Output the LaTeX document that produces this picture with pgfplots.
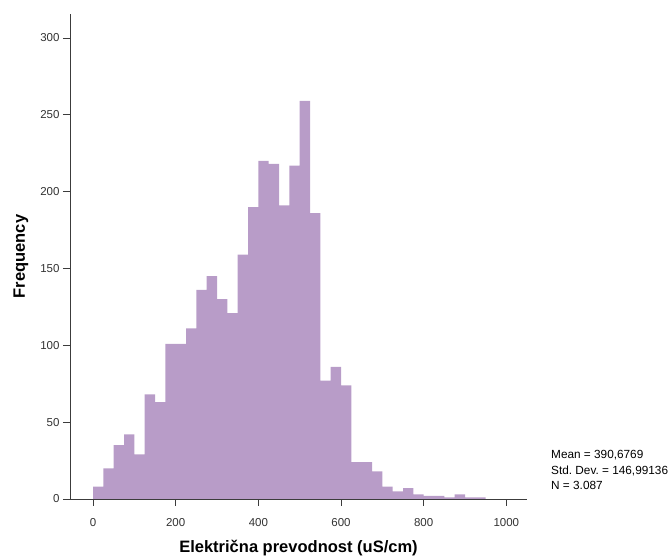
\documentclass[border=0pt]{standalone}
\usepackage{pgfplots}
\pgfplotsset{compat=1.18}
\usepackage{fontspec}
\setmainfont{Liberation Sans}
\definecolor{barc}{RGB}{184,156,200}
\definecolor{axc}{RGB}{60,60,60}
\begin{document}
\begin{tikzpicture}[x=1pt,y=1pt]
\path[use as bounding box] (-70,-57) rectangle (602,499);
\begin{axis}[
  at={(0,0)}, anchor=south west,
  scale only axis, width=457pt, height=485pt,
  xmin=-55.7, xmax=1050, ymin=0, ymax=315.6,
  axis x line=bottom, axis y line=left,
  axis line style={-, draw=axc, line width=0.8pt},
  tick align=outside, major tick length=7pt,
  tick style={draw=axc, line width=0.8pt},
  xtick={0,200,...,1000}, ytick={0,50,...,300},
  minor tick num=0,
  /pgf/number format/assume math mode=true,
  /pgf/number format/1000 sep={},
  tick label style={font=\fontsize{11.5}{13}\selectfont, text=black!80},
  xticklabel style={yshift=-8.5pt},
  xlabel={\textbf{Električna prevodnost (uS/cm)}},
  ylabel={\textbf{Frequency}},
  label style={font=\fontsize{16.5}{18}\selectfont},
  xlabel style={yshift=-7.5pt},
  ylabel style={yshift=5pt},
  clip=false,
]
\addplot[ybar interval, fill=barc, draw=none] coordinates {
(0,8) (25,20) (50,35) (75,42) (100,29) (125,68) (150,63) (175,101) (200,101)
(225,111) (250,136) (275,145) (300,130) (325,121) (350,159) (375,190) (400,220)
(425,218) (450,191) (475,217) (500,259) (525,186) (550,77) (575,86) (600,74)
(625,24) (650,24) (675,18) (700,8) (725,5) (750,7) (775,3) (800,2) (825,2)
(850,1) (875,3) (900,1) (925,1) (950,0)
};
\end{axis}
\node[anchor=north west, align=left, inner sep=0pt, font=\fontsize{11.8}{15.5}\selectfont] at (481,48.5) {Mean = 390,6769\\Std.\ Dev.\ = 146,99136\\N = 3.087};
\end{tikzpicture}
\end{document}
